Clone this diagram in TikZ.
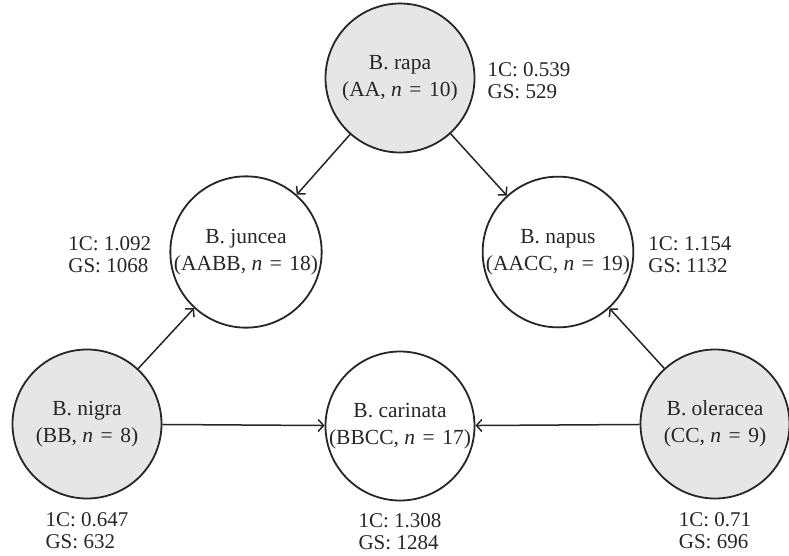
\documentclass[tikz,border=0pt]{standalone}
\usepackage{fontspec}
\setmainfont{Liberation Serif}
\usepackage{tikz}
\usetikzlibrary{arrows.meta, positioning}
\definecolor{parentgray}{RGB}{230,230,230}
\newcommand{\chrom}[1]{\textit{n}\hspace{0.35em}=\hspace{0.35em}#1}

\begin{document}
\begin{tikzpicture}[x=1pt,y=-1pt,
    species/.style={circle,draw=black!85,line width=1.8pt,minimum size=149pt,inner sep=0pt,align=center,
        font=\fontsize{21.5}{27}\selectfont,text=black!85},
    diploid/.style={species,fill=parentgray},
    amphi/.style={species,fill=white},
    gsinfo/.style={inner sep=0pt,align=left,font=\fontsize{21}{22}\selectfont,text=black!85},
    cross/.style={-{Straight Barb[length=5.5pt,width=12pt]},line width=1.5pt,draw=black!85}]
    \useasboundingbox (0,0) rectangle (789,555);

    % Diploidi
    \node[diploid] (rapa) at (400,78) {B. rapa\\(AA, \chrom{10})};
    \node[diploid] (nigra) at (87,424) {B. nigra\\(BB, \chrom{8})};
    \node[diploid] (oleracea) at (715,424) {B. oleracea\\(CC, \chrom{9})};

    % Anfidiploidi
    \node[amphi] (juncea) at (246,252) {B. juncea\\(AABB, \chrom{18})};
    \node[amphi] (napus) at (558,252) {B. napus\\(AACC, \chrom{19})};
    \node[amphi] (carinata) at (400,426) {B. carinata\\(BBCC, \chrom{17})};

    % Valori 1C / GS
    \node[gsinfo,right=12pt of rapa,yshift=-3pt] (rapags) {1C: 0.539\\GS: 529};
    \node[gsinfo,left=18pt of juncea,yshift=-3pt] (junceags) {1C: 1.092\\GS: 1068};
    \node[gsinfo,right=14pt of napus,yshift=-3pt] (napusgs) {1C: 1.154\\GS: 1132};
    \node[gsinfo,below=13pt of nigra] (nigrags) {1C: 0.647\\GS: 632};
    \node[gsinfo,below=12pt of carinata] (carinatags) {1C: 1.308\\GS: 1284};
    \node[gsinfo,below=13pt of oleracea] (oleraceags) {1C: 0.71\\GS: 696};

    % Frecce
    \draw[cross] (rapa) -- (juncea);
    \draw[cross] (rapa) -- (napus);
    \draw[cross] (nigra) -- (juncea);
    \draw[cross] (oleracea) -- (napus);
    \draw[cross] (nigra) -- (carinata);
    \draw[cross] (oleracea) -- (carinata);
\end{tikzpicture}
\end{document}
